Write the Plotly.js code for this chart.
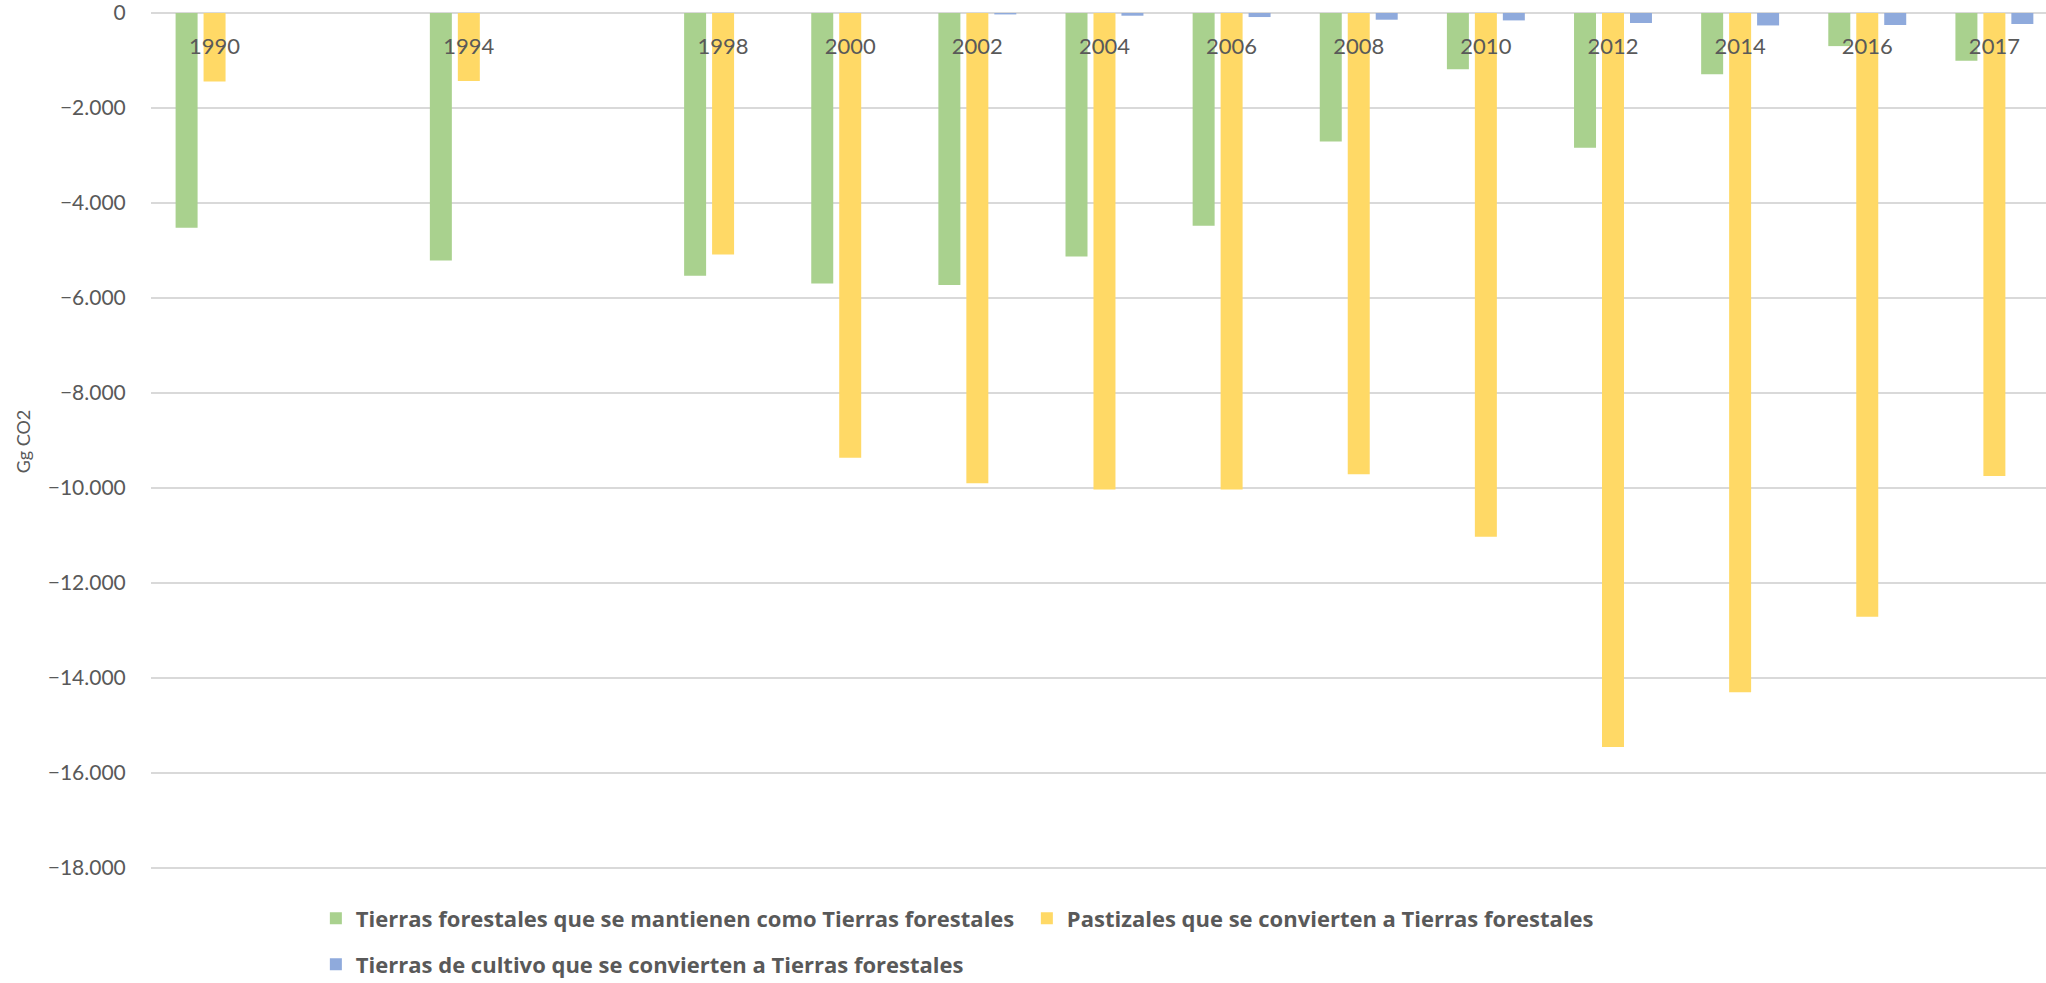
<!DOCTYPE html>
<html>
<head>
<meta charset="utf-8">
<script src="https://cdn.plot.ly/plotly-3.0.1.min.js"></script>
<style>
  html, body { margin: 0; padding: 0; background: #ffffff; }
  #chart { width: 2046px; height: 983px; }
</style>
</head>
<body>
<div id="chart"></div>
<script>
// Categories (1992 and 1996 are empty slots without a label)
const years = ['1990','1992','1994','1996','1998','2000','2002','2004','2006','2008','2010','2012','2014','2016','2017'];
const yearLabels = ['1990','','1994','','1998','2000','2002','2004','2006','2008','2010','2012','2014','2016','2017'];

// Series values (Gg CO2)
const forestRemaining = [-4520, null, -5210, null, -5530, -5695, -5724, -5127, -4481, -2705, -1183, -2838, -1288, -697, -1007];
const grasslandToForest = [-1440, null, -1433, null, -5083, -9362, -9901, -10028, -10028, -9711, -11026, -15450, -14300, -12710, -9747];
const croplandToForest = [0, null, 0, null, 0, 0, -30, -57, -85, -141, -156, -211, -262, -253, -232];

const seriesNames = [
  'Tierras forestales que se mantienen como Tierras forestales',
  'Pastizales que se convierten a Tierras forestales',
  'Tierras de cultivo que se convierten a Tierras forestales'
];
const yTicks = [0, -2000, -4000, -6000, -8000, -10000, -12000, -14000, -16000, -18000];

const textColor = '#595959';
const fontFamily = 'Lato, "Open Sans", sans-serif';
const legendFamily = '"Open Sans", Lato, sans-serif';

const traces = [
  { type: 'bar', x: years, y: forestRemaining, name: seriesNames[0],
    marker: { color: '#A9D18E' }, legend: 'legend', hoverinfo: 'x+y' },
  { type: 'bar', x: years, y: grasslandToForest, name: seriesNames[1],
    marker: { color: '#FFD966' }, legend: 'legend', hoverinfo: 'x+y' },
  { type: 'bar', x: years, y: croplandToForest, name: seriesNames[2],
    marker: { color: '#8FAADC' }, legend: 'legend2', hoverinfo: 'x+y' }
];

// pixel geometry of the plotting area
const PLOT_TOP = 13.3, H = 983;
const PX_PER_UNIT = 854.4 / 18000;
const Y_MIN = -18040;
const PLOT_BOTTOM = PLOT_TOP + (-Y_MIN) * PX_PER_UNIT;
const plotH = PLOT_BOTTOM - PLOT_TOP;

const layout = {
  width: 2046,
  height: 983,
  margin: { l: 151, r: 0, t: PLOT_TOP, b: H - PLOT_BOTTOM, pad: 0, autoexpand: false },
  paper_bgcolor: '#ffffff',
  plot_bgcolor: '#ffffff',
  font: { family: fontFamily, color: textColor, size: 21 },
  separators: ',.',
  barmode: 'group',
  bargap: 0.34,
  bargroupgap: 0.214,
  showlegend: true,
  xaxis: {
    type: 'category',
    categoryorder: 'array',
    categoryarray: years,
    range: [-0.5, 14.406],
    anchor: 'free',
    position: 1,
    side: 'bottom',
    ticks: '',
    tickvals: years,
    ticktext: yearLabels,
    ticklabelstandoff: 18,
    ticklabeloverflow: 'allow',
    tickfont: { family: fontFamily, size: 22, color: textColor },
    showgrid: false,
    showline: false,
    zeroline: false,
    automargin: false,
    fixedrange: true
  },
  yaxis: {
    range: [Y_MIN, 0],
    tickvals: yTicks,
    separatethousands: true,
    tickformat: ',d',
    ticks: 'outside',
    ticklen: 20,
    tickcolor: 'rgba(0,0,0,0)',
    ticklabeloverflow: 'allow',
    tickfont: { family: fontFamily, size: 21, color: textColor },
    showgrid: true,
    gridcolor: '#D9D9D9',
    gridwidth: 1.6,
    zeroline: true,
    zerolinecolor: '#D9D9D9',
    zerolinewidth: 1.6,
    showline: false,
    automargin: false,
    fixedrange: true,
    title: { text: 'Gg CO2', font: { family: fontFamily, size: 18, color: textColor }, standoff: 12 }
  },
  legend: {
    orientation: 'h',
    x: 0.087, xanchor: 'left',
    y: -(918 - PLOT_BOTTOM) / plotH, yanchor: 'middle',
    entrywidth: 666,
    font: { family: legendFamily, size: 22, color: textColor, weight: 'bold' },
    bgcolor: 'rgba(0,0,0,0)'
  },
  legend2: {
    orientation: 'h',
    x: 0.087, xanchor: 'left',
    y: -(964 - PLOT_BOTTOM) / plotH, yanchor: 'middle',
    font: { family: legendFamily, size: 22, color: textColor, weight: 'bold' },
    bgcolor: 'rgba(0,0,0,0)'
  }
};

Plotly.newPlot('chart', traces, layout, { displayModeBar: false, staticPlot: true });
</script>
</body>
</html>
